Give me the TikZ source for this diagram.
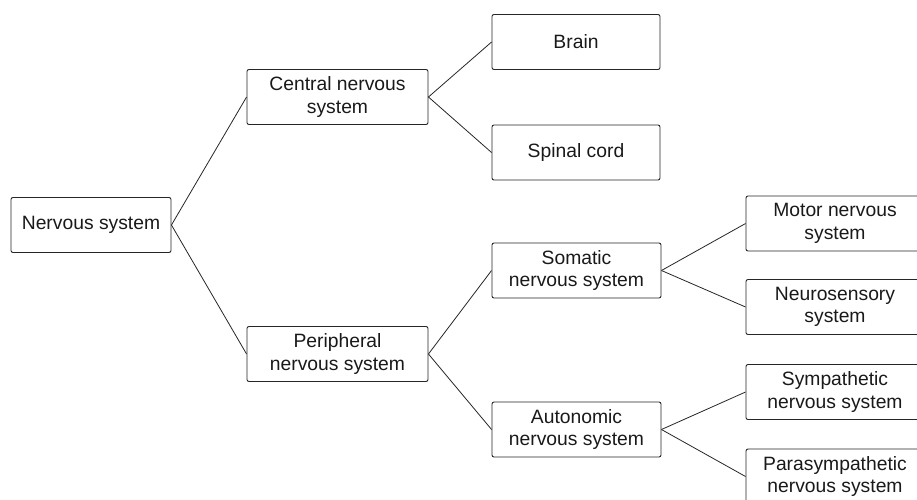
\documentclass[tikz,border=0pt]{standalone}
\usepackage{fontspec}
\setmainfont{Liberation Sans}
\begin{document}
\begin{tikzpicture}[x=1pt,y=-1pt,
  box/.style={draw=black!85,line width=0.9pt,rounded corners=2pt,inner sep=0pt,
    minimum height=55pt,align=center,text=black!90,
    font=\fontsize{19.3pt}{22.5pt}\selectfont},
  link/.style={draw=black!85,line width=0.8pt}]
\useasboundingbox (0,0) rectangle (917,499);
\clip (0,0) rectangle (917,499);
\node[box,minimum width=160pt] (ns) at (91,225) {Nervous system};
\node[box,minimum width=181pt] (cns) at (337.5,97) {Central nervous\\system};
\node[box,minimum width=181pt] (pns) at (337.5,354) {Peripheral\\nervous system};
\node[box,minimum width=168pt] (brain) at (576,42) {Brain};
\node[box,minimum width=168pt] (spinal) at (576,152.5) {Spinal cord};
\node[box,minimum width=169pt] (som) at (576.5,270.5) {Somatic\\nervous system};
\node[box,minimum width=169pt] (aut) at (576.5,429.5) {Autonomic\\nervous system};
\node[box,minimum width=178pt] (motor) at (835,223.5) {Motor nervous\\system};
\node[box,minimum width=178pt] (neuro) at (835,307) {Neurosensory\\system};
\node[box,minimum width=178pt] (symp) at (835,392) {Sympathetic\\nervous system};
\node[box,minimum width=178pt] (para) at (835,476.5) {Parasympathetic\\nervous system};
\draw[link] (ns.east) -- (cns.west);
\draw[link] (ns.east) -- (pns.west);
\draw[link] (cns.east) -- (brain.west);
\draw[link] (cns.east) -- (spinal.west);
\draw[link] (pns.east) -- (som.west);
\draw[link] (pns.east) -- (aut.west);
\draw[link] (som.east) -- (motor.west);
\draw[link] (som.east) -- (neuro.west);
\draw[link] (aut.east) -- (symp.west);
\draw[link] (aut.east) -- (para.west);
\end{tikzpicture}
\end{document}
